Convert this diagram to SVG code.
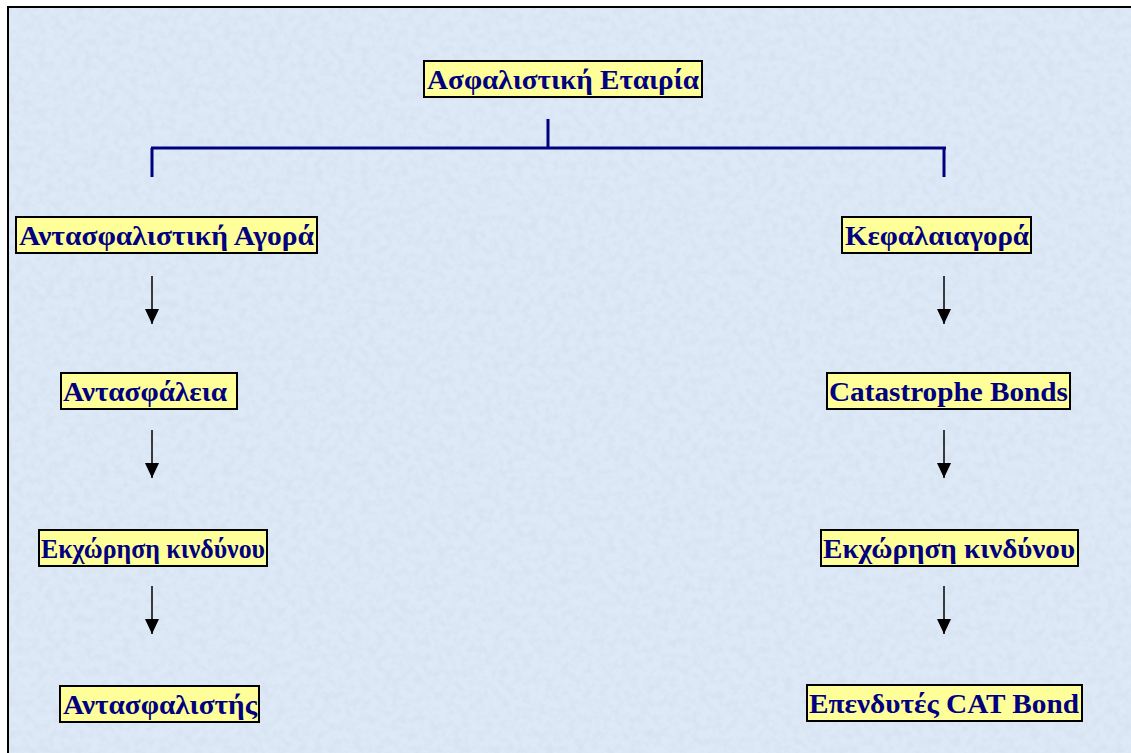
<svg xmlns="http://www.w3.org/2000/svg" width="1131" height="753" viewBox="0 0 1131 753">
  <defs>
    <style>
      .box { fill: #ffff99; stroke: #000000; stroke-width: 2; }
      .lbl { font-family: "Liberation Serif", "Times New Roman", serif; font-weight: bold; font-size: 28px; fill: #000080; }
      .tree { fill: none; stroke: #000080; stroke-width: 3; }
      .flow { fill: none; stroke: #000000; stroke-width: 1.5; }
    </style>
    <!-- arrowhead drawn along +x so orient="auto" turns it down the line -->
    <marker id="head" viewBox="0 0 15 14" refX="15" refY="7" markerWidth="16" markerHeight="14" markerUnits="userSpaceOnUse" orient="auto">
      <path d="M0,0 L15,7 L0,14 Z" fill="#000000"/>
    </marker>
    <!-- mottled paper texture for the panel -->
    <filter id="grain" x="0" y="0" width="100%" height="100%">
      <feTurbulence type="fractalNoise" baseFrequency="0.13" numOctaves="2" seed="7" result="n"/>
      <feColorMatrix in="n" type="matrix" values="0 0 0 0 0.68  0 0 0 0 0.75  0 0 0 0 0.86  2.6 0 0 0 -1.05"/>
    </filter>
  </defs>

  <!-- page and textured panel -->
  <rect x="0" y="0" width="1131" height="753" fill="#ffffff"/>
  <rect x="8" y="7" width="1130" height="760" fill="#dde9f7"/>
  <rect x="8" y="7" width="1130" height="760" filter="url(#grain)" opacity="0.8"/>
  <rect x="8" y="7" width="1130" height="760" fill="none" stroke="#000000" stroke-width="2"/>

  <!-- connectors -->
  <g id="connectors">
    <path class="tree" d="M548,119 V148 M151,148 H946 M152,148 V177 M944,148 V177"/>
    <line class="flow" x1="152" y1="276" x2="152" y2="324" marker-end="url(#head)"/>
    <line class="flow" x1="152" y1="430" x2="152" y2="478" marker-end="url(#head)"/>
    <line class="flow" x1="152" y1="586" x2="152" y2="634" marker-end="url(#head)"/>
    <line class="flow" x1="944" y1="276" x2="944" y2="324" marker-end="url(#head)"/>
    <line class="flow" x1="944" y1="430" x2="944" y2="478" marker-end="url(#head)"/>
    <line class="flow" x1="944" y1="586" x2="944" y2="634" marker-end="url(#head)"/>
  </g>

  <!-- nodes -->
  <g id="insurer">
    <rect class="box" x="424" y="61" width="278" height="36"/>
    <text class="lbl" x="427" y="89" textLength="272" lengthAdjust="spacingAndGlyphs">Ασφαλιστική Εταιρία</text>
  </g>
  <g id="reinsurance-market">
    <rect class="box" x="16" y="217" width="301" height="36"/>
    <text class="lbl" x="19" y="245" textLength="295" lengthAdjust="spacingAndGlyphs">Αντασφαλιστική Αγορά</text>
  </g>
  <g id="capital-market">
    <rect class="box" x="842" y="217" width="189" height="36"/>
    <text class="lbl" x="845" y="245" textLength="184" lengthAdjust="spacingAndGlyphs">Κεφαλαιαγορά</text>
  </g>
  <g id="reinsurance">
    <rect class="box" x="61" y="373" width="176" height="36"/>
    <text class="lbl" x="63" y="401" textLength="164" lengthAdjust="spacingAndGlyphs">Αντασφάλεια</text>
  </g>
  <g id="cat-bonds">
    <rect class="box" x="827" y="373" width="243" height="36"/>
    <text class="lbl" x="829" y="401" textLength="239" lengthAdjust="spacingAndGlyphs">Catastrophe Bonds</text>
  </g>
  <g id="risk-transfer-left">
    <rect class="box" x="39" y="530" width="228" height="36"/>
    <text class="lbl" x="41" y="558" textLength="224" lengthAdjust="spacingAndGlyphs">Εκχώρηση κινδύνου</text>
  </g>
  <g id="risk-transfer-right">
    <rect class="box" x="821" y="530" width="257" height="36"/>
    <text class="lbl" x="823" y="558" textLength="252" lengthAdjust="spacingAndGlyphs">Εκχώρηση κινδύνου</text>
  </g>
  <g id="reinsurer">
    <rect class="box" x="60" y="686" width="199" height="36"/>
    <text class="lbl" x="63" y="714" textLength="194" lengthAdjust="spacingAndGlyphs">Αντασφαλιστής</text>
  </g>
  <g id="cat-investors">
    <rect class="box" x="807" y="685" width="275" height="36"/>
    <text class="lbl" x="809" y="713" textLength="270" lengthAdjust="spacingAndGlyphs">Επενδυτές CAT Bond</text>
  </g>
</svg>
